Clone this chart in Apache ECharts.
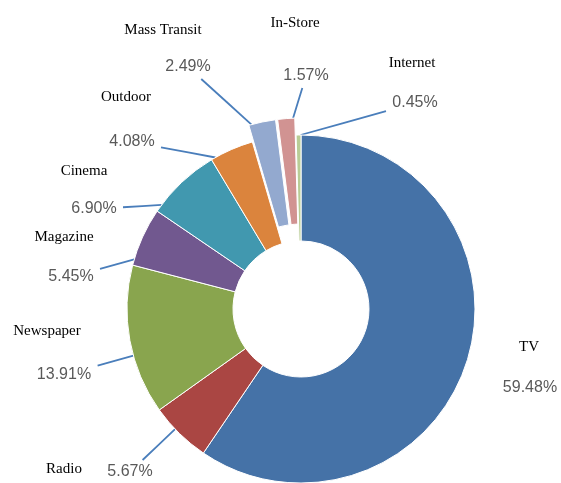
<!DOCTYPE html>
<html style="height: 100%">
<head>
  <meta charset="utf-8">
  <title>Advertising spend by medium</title>
  <script src="https://cdn.jsdelivr.net/npm/echarts@6.0.0/dist/echarts.min.js"></script>
</head>
<body style="margin:0;height:100%;background:#fff">
  <div id="main" style="width:561px;height:483px"></div>
  <script>
    // data
    var categories = ['TV', 'Radio', 'Newspaper', 'Magazine', 'Cinema', 'Outdoor', 'Mass Transit', 'In-Store', 'Internet'];
    var shares = [59.48, 5.67, 13.91, 5.45, 6.90, 4.08, 2.49, 1.57, 0.45];
    var pulledOut = ['Mass Transit', 'In-Store'];
    var noLeader = ['TV'];

    var colors = ['#4572A7', '#AA4643', '#89A54E', '#71588F', '#4198AF', '#DB843D', '#93A9CF', '#D19392', '#B9CD96'];

    // where the labels sit (px), same order as categories
    var nameSpots = [[529, 347], [64, 469], [47, 331], [64, 237], [84, 171], [126, 97], [163, 30], [295, 23], [412, 63]];
    var pctSpots = [[530, 388], [130, 472], [64, 375], [71, 277], [94, 209], [132, 142], [188, 67], [306, 76], [415, 103]];

    var cx = 301, cy = 309, rIn = 68, rOut = 174, pull = 17;

    var chart = echarts.init(document.getElementById('main'));

    // slice angles (deg, clockwise from 12 o'clock), used only to anchor the leader lines
    var total = shares.reduce(function (a, b) { return a + b; }, 0);
    var spans = [];
    var acc = 0;
    shares.forEach(function (v) {
      var a0 = acc / total * 360;
      acc += v;
      spans.push([a0, acc / total * 360]);
    });

    function pt(deg, r) {
      var t = deg * Math.PI / 180;
      return [cx + r * Math.sin(t), cy - r * Math.cos(t)];
    }

    function leader(i, text) {
      var p = pctSpots[i];
      var mid = (spans[i][0] + spans[i][1]) / 2;
      var half = (spans[i][1] - spans[i][0]) / 2 * 0.8;
      var dir = Math.atan2(p[0] - cx, cy - p[1]) * 180 / Math.PI;
      var diff = ((dir - mid) % 360 + 540) % 360 - 180;
      diff = Math.max(-half, Math.min(half, diff));
      var s = pt(mid + diff, rOut);
      if (pulledOut.indexOf(categories[i]) >= 0) {
        var o = pt(mid, pull);
        s = [s[0] + o[0] - cx, s[1] + o[1] - cy];
      }
      var dx = s[0] - p[0], dy = s[1] - p[1];
      var hw = text.length * 4.6 + 6, hh = 7 + 5;
      var k = Math.min(hw / Math.abs(dx || 1e-6), hh / Math.abs(dy || 1e-6));
      var e = [p[0] + dx * k, p[1] + dy * k];
      return [s, [(s[0] + e[0]) / 2, (s[1] + e[1]) / 2], e];
    }

    var pieData = categories.map(function (name, i) {
      return {
        name: name,
        value: shares[i],
        selected: pulledOut.indexOf(name) >= 0,
        itemStyle: { color: colors[i] }
      };
    });

    var plainData = categories.map(function (name, i) {
      return {
        name: name,
        value: shares[i],
        labelLine: { show: noLeader.indexOf(name) < 0 }
      };
    });

    var ring = {
      type: 'pie',
      center: [cx, cy],
      radius: [rIn, rOut],
      startAngle: 90,
      avoidLabelOverlap: false,
      emphasis: { disabled: true }
    };

    chart.setOption({
      animation: false,
      series: [
        Object.assign({}, ring, {
          // the visible doughnut
          selectedMode: 'multiple',
          selectedOffset: pull,
          itemStyle: { borderColor: '#fff', borderWidth: 1 },
          label: { show: false },
          labelLine: { show: false },
          data: pieData
        }),
        Object.assign({}, ring, {
          // invisible copy, carries the category names
          silent: true,
          itemStyle: { color: 'rgba(0,0,0,0)', borderWidth: 0 },
          label: {
            show: true,
            formatter: '{b}',
            fontFamily: 'Liberation Serif',
            fontSize: 15,
            color: '#000'
          },
          labelLine: { show: false },
          labelLayout: function (params) {
            var p = nameSpots[params.dataIndex];
            return { x: p[0], y: p[1], align: 'center', verticalAlign: 'middle' };
          },
          data: plainData.map(function (d) { return { name: d.name, value: d.value }; })
        }),
        Object.assign({}, ring, {
          // invisible copy, carries the percentages and leader lines
          silent: true,
          itemStyle: { color: 'rgba(0,0,0,0)', borderWidth: 0 },
          label: {
            show: true,
            formatter: function (p) { return p.value.toFixed(2) + '%'; },
            fontFamily: 'Liberation Sans',
            fontSize: 16,
            color: '#595959'
          },
          labelLine: {
            show: true,
            lineStyle: { color: '#4a7ebb', width: 1.8 }
          },
          labelLayout: function (params) {
            var i = params.dataIndex;
            var p = pctSpots[i];
            var out = { x: p[0], y: p[1], align: 'center', verticalAlign: 'middle' };
            if (noLeader.indexOf(categories[i]) < 0) {
              out.labelLinePoints = leader(i, shares[i].toFixed(2) + '%');
            }
            return out;
          },
          data: plainData
        })
      ]
    });
  </script>
</body>
</html>
